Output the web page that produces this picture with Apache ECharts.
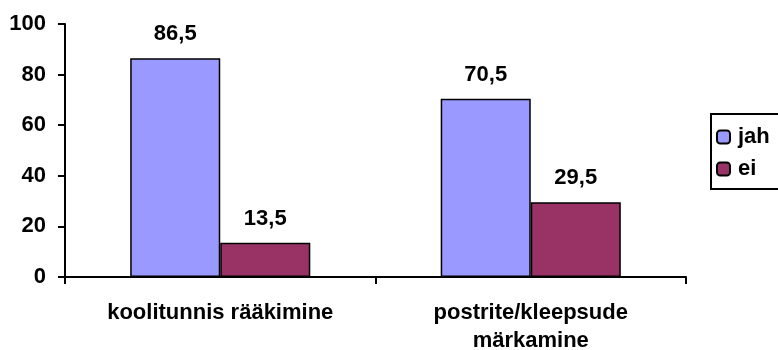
<!DOCTYPE html>
<html>
<head>
<meta charset="utf-8">
<script src="https://cdn.jsdelivr.net/npm/echarts@6/dist/echarts.min.js"></script>
<style>
  html, body { margin: 0; padding: 0; background: #fff; }
  #chart { width: 778px; height: 350px; }
</style>
</head>
<body>
<div id="chart"></div>
<script>
// Survey answers per awareness channel (percent)
const categories = ['koolitunnis rääkimine', 'postrite/kleepsude\nmärkamine'];
const seriesNames = ['jah', 'ei'];
const jahValues = [86.5, 70.5];
const eiValues = [13.5, 29.5];
const yTicks = [0, 20, 40, 60, 80, 100];

const FONT = '"Liberation Sans", Arial, sans-serif';
const FS = 22;
const fmt = v => String(v).replace('.', ',');

const chart = echarts.init(document.getElementById('chart'), null, { renderer: 'canvas' });

const labelStyle = {
  show: true,
  position: 'top',
  distance: 13,
  color: '#000',
  fontFamily: FONT,
  fontWeight: 'bold',
  fontSize: FS,
  formatter: p => fmt(p.value)
};

chart.setOption({
  animation: false,
  backgroundColor: '#fff',
  grid: { left: 65, right: 92, top: 24, bottom: 73, containLabel: false, outerBoundsMode: 'none' },
  legend: {
    orient: 'vertical',
    left: 711,
    top: 114,
    padding: [12, 40, 9, 5],
    itemGap: 10,
    itemWidth: 13,
    itemHeight: 13,
    borderColor: '#000',
    borderWidth: 2,
    data: seriesNames,
    textStyle: { color: '#000', fontFamily: FONT, fontWeight: 'bold', fontSize: FS, padding: [0, 0, 0, 3] }
  },
  xAxis: {
    type: 'category',
    data: categories,
    axisLine: { lineStyle: { color: '#000', width: 2 } },
    axisTick: { show: true, alignWithLabel: false, length: 7, lineStyle: { color: '#000', width: 2 } },
    axisLabel: {
      color: '#000', fontFamily: FONT, fontWeight: 'bold', fontSize: FS,
      margin: 22, lineHeight: 28, interval: 0
    }
  },
  yAxis: {
    type: 'value',
    min: 0, max: 100, interval: 20,
    axisLine: { show: true, lineStyle: { color: '#000', width: 2 } },
    axisTick: { show: true, inside: false, length: 7, lineStyle: { color: '#000', width: 2 } },
    splitLine: { show: false },
    axisLabel: {
      color: '#000', fontFamily: FONT, fontWeight: 'bold', fontSize: FS, margin: 19,
      customValues: yTicks
    }
  },
  series: [
    {
      name: seriesNames[0],
      type: 'bar',
      data: jahValues,
      barGap: '0%',
      barCategoryGap: '42%',
      itemStyle: { color: '#9999FF', borderColor: '#000', borderWidth: 1.5 },
      label: labelStyle
    },
    {
      name: seriesNames[1],
      type: 'bar',
      data: eiValues,
      itemStyle: { color: '#993366', borderColor: '#000', borderWidth: 1.5 },
      label: labelStyle
    }
  ]
});
</script>
</body>
</html>
